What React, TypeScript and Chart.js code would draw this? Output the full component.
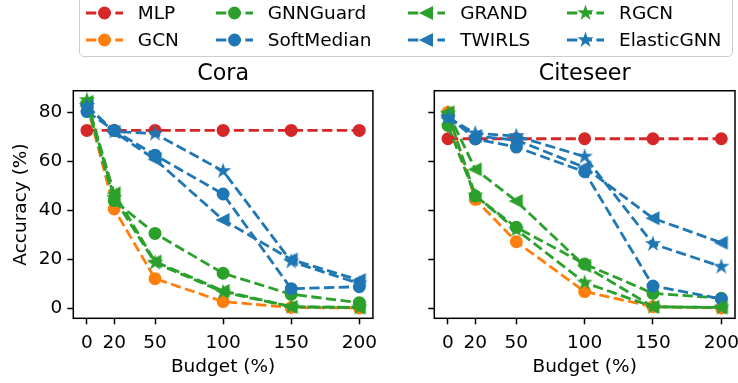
import React, { useEffect, useRef } from "react";
import { Chart, registerables } from "chart.js";

Chart.register(...registerables);

const FONT = "DejaVu Sans";

// Attack budgets (x values) and axis ticks
const BUDGETS = [0, 20, 50, 100, 150, 200];
const Y_TICKS = [0, 20, 40, 60, 80];

// Method names, in plotting order
const METHODS = ["MLP", "GCN", "GNNGuard", "SoftMedian", "GRAND", "TWIRLS", "RGCN", "ElasticGNN"];
const COLORS = ["#d62728", "#ff7f0e", "#2ca02c", "#1f77b4", "#2ca02c", "#1f77b4", "#2ca02c", "#1f77b4"];
const MARKERS = ["circle", "circle", "circle", "circle", "triangleLeft", "triangleLeft", "star", "star"];

// Cora accuracy (%) per budget
const CORA_MLP = [72.6, 72.6, 72.6, 72.6, 72.6, 72.6];
const CORA_GCN = [83.3, 40.5, 12.0, 2.6, 0.2, 0.0];
const CORA_GNNGUARD = [83.5, 43.9, 30.5, 14.2, 5.6, 2.2];
const CORA_SOFTMEDIAN = [80.3, 72.6, 62.5, 46.6, 7.9, 8.7];
const CORA_GRAND = [84.3, 46.9, 19.0, 7.0, 0.5, 0.2];
const CORA_TWIRLS = [82.5, 72.0, 60.8, 36.0, 19.8, 11.4];
const CORA_RGCN = [85.0, 45.0, 18.5, 6.5, 0.5, 0.2];
const CORA_ELASTICGNN = [82.6, 72.2, 71.3, 56.0, 19.0, 10.0];

// Citeseer accuracy (%) per budget
const CITESEER_MLP = [69.2, 69.2, 69.2, 69.2, 69.2, 69.2];
const CITESEER_GCN = [80.0, 44.4, 27.1, 6.7, 0.5, 0.0];
const CITESEER_GNNGUARD = [74.6, 45.8, 33.0, 18.0, 6.0, 4.0];
const CITESEER_SOFTMEDIAN = [78.5, 69.1, 65.8, 55.7, 9.0, 3.7];
const CITESEER_GRAND = [80.0, 56.7, 43.7, 17.2, 0.5, 0.2];
const CITESEER_TWIRLS = [77.8, 70.3, 68.7, 57.5, 36.7, 26.7];
const CITESEER_RGCN = [79.5, 46.0, 32.0, 10.4, 0.5, 0.2];
const CITESEER_ELASTICGNN = [77.8, 71.4, 70.3, 61.9, 26.2, 16.9];

const CORA_SERIES = [CORA_MLP, CORA_GCN, CORA_GNNGUARD, CORA_SOFTMEDIAN, CORA_GRAND, CORA_TWIRLS, CORA_RGCN, CORA_ELASTICGNN];
const CITESEER_SERIES = [CITESEER_MLP, CITESEER_GCN, CITESEER_GNNGUARD, CITESEER_SOFTMEDIAN, CITESEER_GRAND, CITESEER_TWIRLS, CITESEER_RGCN, CITESEER_ELASTICGNN];

const MARKER_SIZE = 5.55;
const MARKER_EDGE = 1.85;
const LINE_WIDTH = 2.8;
const DASH = [10.3, 4.4];

function markerPoints(shape: string, s: number): number[][] {
  if (shape === "triangleLeft") {
    return [[-s, 0], [s, -s], [s, s]];
  }
  const pts: number[][] = [];
  for (let k = 0; k < 10; k++) {
    const a = -Math.PI / 2 + (k * Math.PI) / 5;
    const r = k % 2 === 0 ? s : s * 0.381966;
    pts.push([r * Math.cos(a), r * Math.sin(a)]);
  }
  return pts;
}

function markerImage(shape: string, color: string): HTMLCanvasElement {
  const size = 18;
  const c = document.createElement("canvas");
  c.width = size;
  c.height = size;
  const ctx = c.getContext("2d")!;
  const pts = markerPoints(shape, MARKER_SIZE);
  ctx.beginPath();
  pts.forEach(([x, y], i) => (i === 0 ? ctx.moveTo(size / 2 + x, size / 2 + y) : ctx.lineTo(size / 2 + x, size / 2 + y)));
  ctx.closePath();
  ctx.fillStyle = color;
  ctx.fill();
  ctx.lineWidth = MARKER_EDGE;
  ctx.lineJoin = "miter";
  ctx.strokeStyle = color;
  ctx.stroke();
  return c;
}

// Draws the full box of spines over the lines
const framePlugin = {
  id: "frame",
  afterDatasetsDraw(chart: any) {
    const { ctx, chartArea: a } = chart;
    ctx.save();
    ctx.strokeStyle = "#000";
    ctx.lineWidth = 1.5;
    ctx.strokeRect(a.left, a.top, a.right - a.left, a.bottom - a.top);
    ctx.restore();
  },
};

function buildChart(canvas: HTMLCanvasElement, title: string, series: number[][], showYLabels: boolean, yAxisWidth: number, padRight: number) {
  const tickFont = { family: FONT, size: 18.5 };
  const datasets = series.map((vals, i) => {
    const shape = MARKERS[i];
    const style: any = shape === "circle" ? "circle" : markerImage(shape, COLORS[i]);
    return {
      label: METHODS[i],
      data: BUDGETS.map((x, j) => ({ x, y: vals[j] })),
      borderColor: COLORS[i],
      backgroundColor: COLORS[i],
      borderWidth: LINE_WIDTH,
      borderDash: DASH,
      pointStyle: style,
      pointRadius: MARKER_SIZE,
      pointBorderWidth: MARKER_EDGE,
      pointBackgroundColor: COLORS[i],
      pointBorderColor: COLORS[i],
      tension: 0,
      order: series.length - i,
      clip: false as any,
    };
  });
  return new Chart(canvas, {
    type: "line",
    data: { datasets },
    plugins: [framePlugin],
    options: {
      animation: false,
      responsive: false,
      devicePixelRatio: 1,
      events: [],
      layout: { padding: { left: 0, right: padRight, top: 0, bottom: 0 } },
      plugins: {
        legend: { display: false },
        tooltip: { enabled: false },
        title: {
          display: true,
          text: title,
          fullSize: false,
          color: "#000",
          font: { family: FONT, size: 22.2, weight: "normal" },
          padding: { top: 10.8, bottom: 3.3 },
        },
      },
      scales: {
        x: {
          type: "linear",
          min: -10,
          max: 210,
          afterBuildTicks: (s: any) => {
            s.ticks = BUDGETS.map((v) => ({ value: v }));
          },
          afterFit: (s: any) => {
            s.height = 64.7;
          },
          ticks: { autoSkip: false, maxRotation: 0, color: "#000", font: tickFont, padding: 7.5 },
          grid: { drawOnChartArea: false, drawTicks: true, tickLength: 6, tickWidth: 1.5, tickColor: "#000", color: "#000" },
          border: { display: false },
          title: { display: true, text: "Budget (%)", color: "#000", font: tickFont, padding: { top: 0, bottom: 5.2 } },
        },
        y: {
          type: "linear",
          min: -4.21,
          max: 88.83,
          afterBuildTicks: (s: any) => {
            s.ticks = Y_TICKS.map((v) => ({ value: v }));
          },
          afterFit: (s: any) => {
            s.width = yAxisWidth;
          },
          ticks: { display: showYLabels, color: "#000", font: tickFont, padding: 5 },
          grid: { drawOnChartArea: false, drawTicks: true, tickLength: 6, tickWidth: 1.5, tickColor: "#000", color: "#000" },
          border: { display: false },
          title: { display: showYLabels, text: "Accuracy (%)", color: "#000", font: tickFont, padding: { top: 10, bottom: 0 } },
        },
      },
    } as any,
  });
}

function LegendHandle({ index }: { index: number }) {
  const color = COLORS[index];
  const shape = MARKERS[index];
  const cx = 18.5;
  const cy = 9;
  let marker: React.ReactNode;
  if (shape === "circle") {
    marker = <circle cx={cx} cy={cy} r={MARKER_SIZE} fill={color} stroke={color} strokeWidth={MARKER_EDGE} />;
  } else {
    const pts = markerPoints(shape, MARKER_SIZE)
      .map(([x, y]) => `${cx + x},${cy + y}`)
      .join(" ");
    marker = <polygon points={pts} fill={color} stroke={color} strokeWidth={MARKER_EDGE} />;
  }
  return (
    <svg width={37} height={18} style={{ marginRight: 14.8, flex: "none", overflow: "visible" }}>
      <line x1={0} y1={cy} x2={37} y2={cy} stroke={color} strokeWidth={LINE_WIDTH} strokeDasharray={DASH.join(" ")} />
      {marker}
    </svg>
  );
}

export default function App() {
  const leftRef = useRef<HTMLCanvasElement>(null);
  const rightRef = useRef<HTMLCanvasElement>(null);

  useEffect(() => {
    const left = buildChart(leftRef.current!, "Cora", CORA_SERIES, true, 73.3, 10);
    const right = buildChart(rightRef.current!, "Citeseer", CITESEER_SERIES, false, 54.3, 15);
    return () => {
      left.destroy();
      right.destroy();
    };
  }, []);

  return (
    <div style={{ position: "absolute", left: 0, top: 0, width: 738, height: 383, overflow: "hidden", background: "#fff" }}>
      <canvas ref={leftRef} width={385} height={333} style={{ position: "absolute", left: 0, top: 50, width: 385, height: 333 }} />
      <canvas ref={rightRef} width={370} height={333} style={{ position: "absolute", left: 380, top: 50, width: 370, height: 333 }} />
      <div
        style={{
          position: "absolute",
          left: 79,
          top: -3,
          width: 654,
          height: 60,
          boxSizing: "border-box",
          border: "1.5px solid #cccccc",
          borderRadius: 5,
          background: "rgba(255,255,255,0.8)",
          zIndex: 2,
        }}
      >
        <div
          style={{
            position: "absolute",
            left: 6,
            top: 6,
            display: "grid",
            gridAutoFlow: "column",
            gridTemplateRows: "18px 18px",
            columnGap: 37,
            rowGap: 9,
          }}
        >
          {METHODS.map((name, i) => (
            <div key={name} style={{ display: "flex", alignItems: "center", height: 18 }}>
              <LegendHandle index={i} />
              <span style={{ fontFamily: FONT, fontSize: 18.5, lineHeight: "18px", whiteSpace: "nowrap", color: "#000" }}>{name}</span>
            </div>
          ))}
        </div>
      </div>
    </div>
  );
}
